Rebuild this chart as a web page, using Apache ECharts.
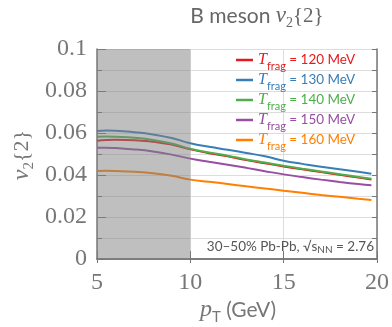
<!DOCTYPE html>
<html>
<head>
<meta charset="utf-8">
<script src="https://cdn.jsdelivr.net/npm/echarts@6/dist/echarts.min.js"></script>
<style>
  html, body { margin: 0; padding: 0; background: #fff; }
  #chart { width: 392px; height: 327px; }
</style>
</head>
<body>
<div id="chart"></div>
<script>
// Transverse momentum grid (GeV)
const pT = [5, 5.5, 6, 7, 8, 9, 10, 11, 12, 13, 14, 15, 16, 17, 18, 19, 19.7];

// B meson v2{2} for each fragmentation temperature
const v2_T120 = [0.0563, 0.0567, 0.0568, 0.0566, 0.0558, 0.0545, 0.0522, 0.0504, 0.0489, 0.0471, 0.0456, 0.0441, 0.0427, 0.0414, 0.0401, 0.0388, 0.0379];
const v2_T130 = [0.0610, 0.0612, 0.0611, 0.0604, 0.0593, 0.0576, 0.0551, 0.0534, 0.0520, 0.0505, 0.0489, 0.0468, 0.0453, 0.0439, 0.0427, 0.0415, 0.0406];
const v2_T140 = [0.0582, 0.0583, 0.0582, 0.0577, 0.0567, 0.0550, 0.0525, 0.0507, 0.0492, 0.0474, 0.0459, 0.0444, 0.0430, 0.0417, 0.0404, 0.0391, 0.0382];
const v2_T150 = [0.0530, 0.0530, 0.0528, 0.0522, 0.0512, 0.0497, 0.0478, 0.0463, 0.0449, 0.0434, 0.0418, 0.0403, 0.0390, 0.0378, 0.0367, 0.0357, 0.0351];
const v2_T160 = [0.0419, 0.0420, 0.0419, 0.0415, 0.0408, 0.0396, 0.0378, 0.0368, 0.0357, 0.0346, 0.0336, 0.0325, 0.0315, 0.0305, 0.0296, 0.0287, 0.0281];

const fragTemps = ['120', '130', '140', '150', '160'];
const seriesValues = [v2_T120, v2_T130, v2_T140, v2_T150, v2_T160];
const seriesColors = ['#e41a1c', '#377eb8', '#4daf4a', '#984ea3', '#ff7f00'];

// pT window shaded grey (pT range, v2 range)
const shadedBand = [5, 10, 0, 0.1];

const xRange = [5, 20];
const yRange = [0, 0.1];

const GREY = '#777';
const SERIF = 'Liberation Serif';
const SANS = 'Lato';

const lineSeries = seriesValues.map((vals, k) => ({
  name: 'T' + fragTemps[k],
  type: 'line',
  smooth: true,
  symbol: 'none',
  z: 2,
  lineStyle: { color: seriesColors[k], width: 2 },
  itemStyle: { color: seriesColors[k] },
  data: pT.map((x, i) => [x, vals[i]])
}));

const bandSeries = {
  type: 'custom',
  z: 3,
  silent: true,
  xAxisIndex: 0,
  yAxisIndex: 0,
  encode: { x: [0, 1], y: [2, 3] },
  data: [shadedBand],
  renderItem: (params, api) => {
    const a = api.coord([api.value(0), api.value(3)]);
    const b = api.coord([api.value(1), api.value(2)]);
    return {
      type: 'rect',
      shape: { x: a[0], y: a[1], width: b[0] - a[0], height: b[1] - a[1] },
      style: { fill: 'rgba(128,128,128,0.5)' }
    };
  }
};

function legendRich(color) {
  return {
    t: { fontFamily: SERIF, fontStyle: 'italic', fontSize: 16, color, lineHeight: 24, verticalAlign: 'middle' },
    s: { fontFamily: SANS, fontSize: 11, color, lineHeight: 11, verticalAlign: 'bottom' },
    r: { fontFamily: SANS, fontSize: 13.5, color, lineHeight: 24, verticalAlign: 'middle' }
  };
}

const chart = echarts.init(document.getElementById('chart'), null, { renderer: 'canvas' });

chart.setOption({
  animation: false,
  backgroundColor: '#fff',
  grid: { left: 97, right: 13, top: 49, bottom: 68, show: false },
  legend: {
    orient: 'vertical',
    left: 231,
    top: 47,
    icon: 'rect',
    itemWidth: 17,
    itemHeight: 2.5,
    itemGap: 0,
    selectedMode: false,
    data: fragTemps.map((t, k) => ({
      name: 'T' + t,
      textStyle: { color: seriesColors[k], rich: legendRich(seriesColors[k]) }
    })),
    formatter: name => '{t|T}{s|frag}{r| = ' + name.slice(1) + ' MeV}'
  },
  xAxis: [
    {
      type: 'value', position: 'bottom', min: xRange[0], max: xRange[1], interval: 5,
      axisLine: { show: true, lineStyle: { color: GREY, width: 1.5 } },
      axisTick: { show: true, inside: true, length: 8, lineStyle: { color: GREY, width: 1 } },
      axisLabel: { color: GREY, fontFamily: SERIF, fontSize: 24, margin: 12 },
      splitLine: { show: true, lineStyle: { color: '#ddd', width: 1 } }
    },
    {
      type: 'value', position: 'top', min: xRange[0], max: xRange[1], interval: 5,
      axisLine: { show: true, lineStyle: { color: GREY, width: 1.5 } },
      axisTick: { show: true, inside: true, length: 4, lineStyle: { color: GREY, width: 1 } },
      axisLabel: { show: false },
      splitLine: { show: false }
    }
  ],
  yAxis: [
    {
      type: 'value', position: 'left', min: yRange[0], max: yRange[1], interval: 0.02,
      axisLine: { show: true, lineStyle: { color: GREY, width: 1.5 } },
      axisTick: { show: true, inside: true, length: 9, lineStyle: { color: GREY, width: 1 } },
      minorTick: { show: true, splitNumber: 2, length: 5, lineStyle: { color: GREY, width: 1 } },
      axisLabel: { color: GREY, fontFamily: SERIF, fontSize: 24, margin: 10, formatter: v => String(+v.toFixed(2)) },
      splitLine: { show: true, lineStyle: { color: '#ddd', width: 1 } },
      minorSplitLine: { show: true, lineStyle: { color: '#ddd', width: 1 } }
    },
    {
      type: 'value', position: 'right', min: yRange[0], max: yRange[1], interval: 0.01,
      axisLine: { show: true, lineStyle: { color: GREY, width: 1.5 } },
      axisTick: { show: true, inside: true, length: 5, lineStyle: { color: GREY, width: 1 } },
      axisLabel: { show: false },
      splitLine: { show: false }
    }
  ],
  graphic: [
    {
      // chart title
      type: 'text', x: 257, y: 16, z: 10,
      style: {
        text: '{a|B meson }{v|v}{s|2}{b|{2}}',
        align: 'center', verticalAlign: 'middle',
        fill: '#666', font: '21px "' + SERIF + '"',
        rich: {
          a: { fontFamily: SANS, fontSize: 21, fill: '#666', lineHeight: 28, verticalAlign: 'middle' },
          v: { fontFamily: SERIF, fontStyle: 'italic', fontSize: 23, fill: '#666', lineHeight: 28, verticalAlign: 'middle' },
          s: { fontFamily: SERIF, fontSize: 14, fill: '#666', lineHeight: 14, verticalAlign: 'bottom' },
          b: { fontFamily: SERIF, fontSize: 21, fill: '#666', lineHeight: 28, verticalAlign: 'middle' }
        }
      }
    },
    {
      type: 'text', x: 22, y: 155, rotation: Math.PI / 2, z: 10,
      style: {
        text: '{v|v}{s|2}{b|{2}}',
        align: 'center', verticalAlign: 'middle',
        fill: GREY, font: '22px "' + SERIF + '"',
        rich: {
          v: { fontFamily: SERIF, fontStyle: 'italic', fontSize: 24, fill: GREY, lineHeight: 30, verticalAlign: 'middle' },
          s: { fontFamily: SERIF, fontSize: 15, fill: GREY, lineHeight: 15, verticalAlign: 'bottom' },
          b: { fontFamily: SERIF, fontSize: 22, fill: GREY, lineHeight: 30, verticalAlign: 'middle' }
        }
      }
    },
    {
      type: 'text', x: 238, y: 310, z: 10,
      style: {
        text: '{p|p}{s|T}{g| (GeV)}',
        align: 'center', verticalAlign: 'middle',
        fill: GREY,
        rich: {
          p: { fontFamily: SERIF, fontStyle: 'italic', fontSize: 24, fill: GREY, lineHeight: 30, verticalAlign: 'middle' },
          s: { fontFamily: SANS, fontSize: 15, fill: GREY, lineHeight: 15, verticalAlign: 'bottom' },
          g: { fontFamily: SANS, fontSize: 21, fill: GREY, lineHeight: 30, verticalAlign: 'middle' }
        }
      }
    },
    {
      type: 'text', x: 374, y: 247, z: 10,
      style: {
        text: '{a|30–50% Pb-Pb, √}{a|s}{n|NN}{a| = 2.76}',
        align: 'right', verticalAlign: 'middle',
        fill: '#555',
        rich: {
          a: { fontFamily: SANS, fontSize: 13.5, fill: '#555', lineHeight: 16, verticalAlign: 'middle' },
          n: { fontFamily: SANS, fontSize: 10, fill: '#555', lineHeight: 10, verticalAlign: 'bottom' }
        }
      }
    }
  ],
  series: [...lineSeries, bandSeries]
});
</script>
</body>
</html>
